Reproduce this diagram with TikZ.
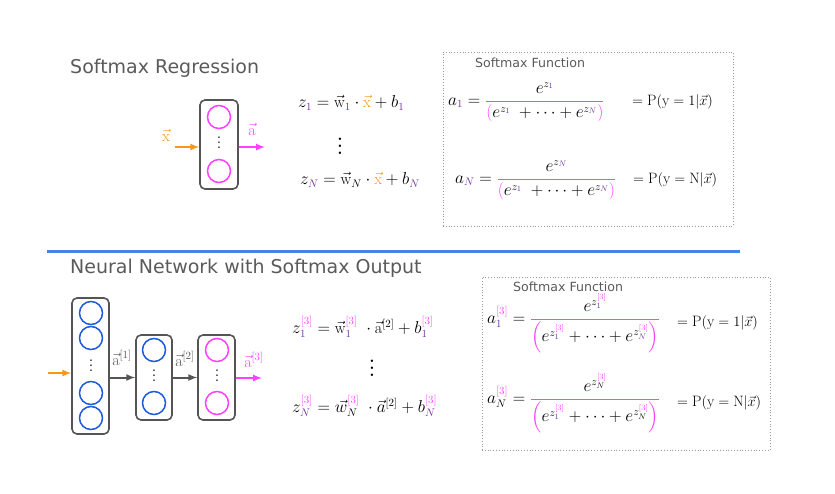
\documentclass[tikz,border=0pt]{standalone}
\usepackage{amsmath}
\usepackage{fontspec}
\setsansfont{DejaVu Sans}
\usepackage{xcolor}
\definecolor{mypink}{RGB}{255,64,255}
\definecolor{mypurple}{RGB}{112,48,160}
\definecolor{myorange}{RGB}{250,150,20}
\definecolor{myblue}{RGB}{30,90,220}
\definecolor{lineblue}{RGB}{70,130,235}
\definecolor{boxgray}{RGB}{85,85,85}
\definecolor{titlegray}{RGB}{90,90,90}
\newcommand\pur[1]{{\color{mypurple}#1}}
\newcommand\pnk[1]{{\color{mypink}#1}}
\newcommand\org[1]{{\color{myorange}#1}}
\newcommand\pfrac[2]{{\color{mypink}\dfrac{\color{black}#1}{\color{black}#2}}}
\newcommand\lthree{^{\pnk{[3]}}}
\newcommand\dotcol[1]{\vbox{\baselineskip#1\lineskiplimit0pt\hbox{.}\hbox{.}\hbox{.}}}

\begin{document}
\begin{tikzpicture}[x=1pt,y=-1pt,>=latex,
  title/.style={font=\sffamily\fontsize{19}{22}\selectfont,text=titlegray,inner sep=0},
  smallttl/.style={font=\sffamily\fontsize{12.6}{15}\selectfont,text=titlegray,inner sep=0},
  eq/.style={font=\fontsize{16}{20}\selectfont,inner sep=0},
  prob/.style={font=\fontsize{15}{18}\selectfont,inner sep=0},
  layerbox/.style={draw=boxgray,line width=1.6pt,rounded corners=5pt},
  unit/.style={draw=#1,line width=1.5pt,minimum size=23pt,inner sep=0},
  dotbox/.style={draw=gray!80,dotted,line width=0.8pt},
  dots/.style={font=\fontsize{11}{13}\bfseries,inner sep=0},
  bigdots/.style={font=\fontsize{17}{20}\bfseries,inner sep=0}]
\useasboundingbox (0,0) rectangle (835,493);

% softmax regression
\node[anchor=west] at (70,68) [title] (T1) {Softmax Regression};
\node[rectangle] at (219,144.5) [layerbox,minimum width=38,minimum height=89] (L) {};
\node[circle] at (219,117) [unit=mypink] (L1) {};
\node[circle] at (219,171) [unit=mypink] (L2) {};
\node at (219,143) [dots] (Ld) {\dotcol{5pt}};
\coordinate (xin) at (175,147);
\coordinate (aout) at (265,147);
\node at (166,135) [eq] (xlab) {$\org{\vec{\mathrm{x}}}$};
\node at (252,129) [eq] (alab) {$\pnk{\vec{\mathrm{a}}}$};
\draw[->,myorange,line width=2pt] (xin) -- (xin -| L.west);
\draw[->,mypink,line width=2pt] (aout -| L.east) -- (aout);

\node[anchor=west] at (298,103) [eq] (Z1) {$z_{\pur1} = \vec{\mathrm{w}}_{\pur1}\cdot\org{\vec{\mathrm{x}}} + b_{\pur1}$};
\node at (340,146) [bigdots] (Zd) {\dotcol{7pt}};
\node[anchor=west] at (300,180) [eq] (ZN) {$z_{\pur N} = \vec{\mathrm{w}}_{N}\cdot\org{\vec{\mathrm{x}}} + b_{\pur N}$};

\node[rectangle] at (588,139) [dotbox,minimum width=290,minimum height=174] (F1) {};
\node[anchor=west] at (475,63) [smallttl] (F1t) {Softmax Function};
\node[anchor=west] at (448,102) [eq] (A1) {$a_{\pur1} = \pfrac{e^{z_{\pur1}}}{\pnk{(}e^{z_{\pur1}}\;+\cdots+e^{z_{\pur N}}\pnk{)}}$};
\node[anchor=west] at (632,102) [prob] (P1) {$= \mathrm{P}(\mathrm{y} = 1|\vec{x})$};
\node[anchor=west] at (455,180) [eq] (AN) {$a_{\pur N} = \pfrac{e^{z_{\pur N}}}{\pnk{(}e^{z_{\pur1}}\;+\cdots+e^{z_{\pur N}}\pnk{)}}$};
\node[anchor=west] at (633,180) [prob] (PN) {$= \mathrm{P}(\mathrm{y} = \mathrm{N}|\vec{x})$};

% separator
\coordinate (sepl) at (47,251);
\coordinate (sepr) at (740,251);
\draw[lineblue,line width=3pt] (sepl) -- (sepr);

% neural network
\node[anchor=west] at (70,268) [title] (T2) {Neural Network with Softmax Output};
\node[rectangle] at (90.5,366) [layerbox,minimum width=37,minimum height=136] (N1) {};
\node[circle] at (91,313) [unit=myblue] (N11) {};
\node[circle] at (91,338) [unit=myblue] (N12) {};
\node at (91,366) [dots] (N1d) {\dotcol{5pt}};
\node[circle] at (91,393) [unit=myblue] (N13) {};
\node[circle] at (91,418) [unit=myblue] (N14) {};
\node[rectangle] at (154,377.5) [layerbox,minimum width=36,minimum height=85] (N2) {};
\node[circle] at (154,350) [unit=myblue] (N21) {};
\node at (154,376) [dots] (N2d) {\dotcol{5pt}};
\node[circle] at (154,403) [unit=myblue] (N22) {};
\node[rectangle] at (216.5,377.5) [layerbox,minimum width=37,minimum height=85] (N3) {};
\node[circle] at (217,350) [unit=mypink] (N31) {};
\node at (217,376) [dots] (N3d) {\dotcol{5pt}};
\node[circle] at (217,403) [unit=mypink] (N32) {};
\coordinate (nin) at (48,373);
\coordinate (nout) at (262,378);
\draw[->,myorange,line width=2pt] (nin) -- (nin -| N1.west);
\draw[->,boxgray,line width=2pt] (N1.east |- N2) -- (N2.west);
\draw[->,boxgray,line width=2pt] (N2.east) -- (N3.west);
\draw[->,mypink,line width=2pt] (nout -| N3.east) -- (nout);
\node at (122,358) [eq] (a1lab) {$\textcolor{boxgray}{\vec{\mathrm{a}}^{[1]}}$};
\node at (185,359) [eq] (a2lab) {$\textcolor{boxgray}{\vec{\mathrm{a}}^{[2]}}$};
\node at (254,360) [eq] (a3lab) {$\pnk{\vec{\mathrm{a}}^{[3]}}$};

\node[anchor=west] at (292,327) [eq] (Y1) {$z\lthree_{\pur1} = \vec{\mathrm{w}}\lthree_{\pur1}\;\cdot\vec{\mathrm{a}}^{[2]} + b\lthree_{\pur1}$};
\node at (372,368) [bigdots] (Yd) {\dotcol{7pt}};
\node[anchor=west] at (292,406) [eq] (YN) {$z\lthree_{\pur N} = \vec{w}\lthree_{N}\;\cdot\vec{a}^{[2]} + b\lthree_{\pur N}$};

\node[rectangle] at (626,363.5) [dotbox,minimum width=288,minimum height=173] (F2) {};
\node[anchor=west] at (513,287) [smallttl] (F2t) {Softmax Function};
\node[anchor=west] at (487,323) [eq] (B1) {$a\lthree_{\pur1} = \pfrac{e^{z\lthree_{\pur1}}}{\pnk{\Bigl(}e^{z\lthree_{\pur1}}+\cdots+e^{z\lthree_{\pur N}}\pnk{\Bigr)}}$};
\node[anchor=west] at (677,323) [prob] (Q1) {$= \mathrm{P}(\mathrm{y} = 1|\vec{x})$};
\node[anchor=west] at (487,403) [eq] (BN) {$a\lthree_{N} = \pfrac{e^{z\lthree_{N}}}{\pnk{\Bigl(}e^{z\lthree_{\pur1}}+\cdots+e^{z\lthree_{N}}\pnk{\Bigr)}}$};
\node[anchor=west] at (677,403) [prob] (QN) {$= \mathrm{P}(\mathrm{y} = \mathrm{N}|\vec{x})$};
\end{tikzpicture}
\end{document}
